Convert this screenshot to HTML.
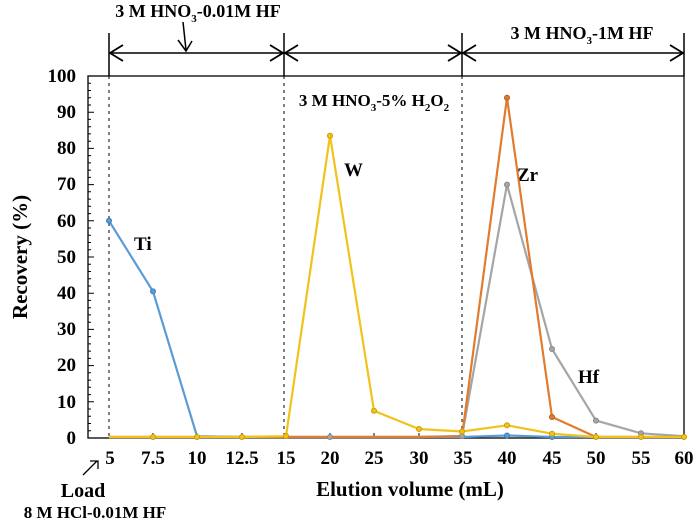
<!DOCTYPE html>
<html><head><style>body{margin:0;background:#fff}svg{display:block;font-family:"Liberation Serif",serif;font-weight:bold}</style></head><body>
<svg width="697" height="522" viewBox="0 0 697 522">
<rect x="88" y="76" width="596" height="362" fill="none" stroke="#000" stroke-width="1.3"/>
<g stroke="#000" stroke-width="1">
<path d="M88,76h6M88,83.2h3M88,90.5h3M88,97.7h3M88,105h3M88,112.2h6M88,119.4h3M88,126.7h3M88,133.9h3M88,141.2h3M88,148.4h6M88,155.6h3M88,162.9h3M88,170.1h3M88,177.4h3M88,184.6h6M88,191.8h3M88,199.1h3M88,206.3h3M88,213.6h3M88,220.8h6M88,228h3M88,235.3h3M88,242.5h3M88,249.8h3M88,257h6M88,264.2h3M88,271.5h3M88,278.7h3M88,286h3M88,293.2h6M88,300.4h3M88,307.7h3M88,314.9h3M88,322.2h3M88,329.4h6M88,336.6h3M88,343.9h3M88,351.1h3M88,358.4h3M88,365.6h6M88,372.8h3M88,380.1h3M88,387.3h3M88,394.6h3M88,401.8h6M88,409h3M88,416.3h3M88,423.5h3M88,430.8h3"/>
<path d="M153,438v-5M197,438v-5M242,438v-5M330,438v-5M374,438v-5M419,438v-5M507,438v-5M552,438v-5M596,438v-5M641,438v-5"/>
<path d="M109,76V438M284,76V438M462,76V438" stroke-dasharray="3,4"/>
<path d="M109,33V76M284,33V76M462,33V76M684,33V76" stroke-width="1.5"/>
<path d="M109,53H684" stroke-width="1.5"/>
<path d="M123,45L110,53L123,61M270,45L283,53L270,61M298,45L285,53L298,61M448,45L461,53L448,61M476,45L463,53L476,61M670,45L683,53L670,61" fill="none" stroke-width="1.8"/>
<path d="M183,22L186,50" stroke-width="1.5"/>
<path d="M178,40L186,51L192,41" fill="none" stroke-width="1.5"/>
<path d="M83,475L97,461M90,461h8v8" fill="none" stroke-width="1.3"/>
</g>
<g font-size="19" text-anchor="end">
<text x="76" y="82">100</text><text x="76" y="118">90</text><text x="76" y="154">80</text><text x="76" y="190">70</text><text x="76" y="227">60</text><text x="76" y="263">50</text><text x="76" y="299">40</text><text x="76" y="335">30</text><text x="76" y="371">20</text><text x="76" y="408">10</text><text x="76" y="444">0</text>
</g>
<g font-size="19" text-anchor="middle">
<text x="110" y="464">5</text><text x="153" y="464">7.5</text><text x="197" y="464">10</text><text x="242" y="464">12.5</text><text x="286" y="464">15</text><text x="330" y="464">20</text><text x="374" y="464">25</text><text x="419" y="464">30</text><text x="463" y="464">35</text><text x="507" y="464">40</text><text x="552" y="464">45</text><text x="596" y="464">50</text><text x="641" y="464">55</text><text x="684" y="464">60</text>
<text x="410" y="496" font-size="21">Elution volume (mL)</text>
<text x="83" y="497" font-size="20">Load</text>
<text x="95" y="518" font-size="17">8 M HCl-0.01M HF</text>
<text x="198" y="17" font-size="18">3 M HNO<tspan font-size="11" dy="5">3</tspan><tspan dy="-5">-0.01M HF</tspan></text>
<text x="582" y="39" font-size="18">3 M HNO<tspan font-size="11" dy="5">3</tspan><tspan dy="-5">-1M HF</tspan></text>
<text x="374" y="106" font-size="17">3 M HNO<tspan font-size="11" dy="5">3</tspan><tspan dy="-5">-5% H</tspan><tspan font-size="11" dy="5">2</tspan><tspan dy="-5">O</tspan><tspan font-size="11" dy="5">2</tspan></text>
</g>
<text transform="translate(27,257) rotate(-90)" font-size="21" text-anchor="middle">Recovery (%)</text>
<g font-size="19"><text x="134" y="250">Ti</text><text x="344" y="176">W</text><text x="517" y="181">Zr</text><text x="578" y="383">Hf</text></g>
<g fill="none" stroke-width="2.2" stroke-linejoin="round">
<polyline stroke="#a5a5a5" points="109,437 153,437 197,437 242,437 286,437 330,437 374,437 419,437 462,436 507,184.6 552,349 596,420.6 641,433.3 684,436.2"/>
<polyline stroke="#5b9bd5" points="109,220.8 153,291.4 197,436.2 242,437 286,437 330,437 374,437 419,437 462,437 507,435.5 552,437 596,437 641,437 684,437"/>
<polyline stroke="#e07b30" points="109,437 153,437 197,437 242,437 286,437 330,437 374,437 419,437 462,436.2 507,97.7 552,417 596,437 641,437 684,437"/>
<polyline stroke="#f2c21c" points="109,437 153,437 197,437 242,437 286,436.2 330,135.7 374,410.8 419,429 462,431.5 507,425.3 552,433.7 596,437 641,437 684,437"/>
</g>
<g stroke-width="1">
<g fill="#a5a5a5" stroke="#888"><circle cx="462" cy="436" r="2.5"/><circle cx="507" cy="184.6" r="2.5"/><circle cx="552" cy="349" r="2.5"/><circle cx="596" cy="420.6" r="2.5"/><circle cx="641" cy="433.3" r="2.5"/><circle cx="330" cy="437" r="2.5"/></g>
<g fill="#5b9bd5" stroke="#3f7fb8"><circle cx="109" cy="220.8" r="2.5"/><circle cx="153" cy="291.4" r="2.5"/><circle cx="507" cy="435.5" r="2.5"/><circle cx="552" cy="437" r="2.5"/></g>
<g fill="#e07b30" stroke="#b85a18"><circle cx="507" cy="97.7" r="2.5"/><circle cx="552" cy="417" r="2.5"/></g>
<g fill="#f2c21c" stroke="#c89b00"><circle cx="153" cy="437" r="2.5"/><circle cx="197" cy="437" r="2.5"/><circle cx="242" cy="437" r="2.5"/><circle cx="286" cy="436" r="2.5"/><circle cx="330" cy="135.7" r="2.5"/><circle cx="374" cy="410.8" r="2.5"/><circle cx="419" cy="429" r="2.5"/><circle cx="462" cy="431.5" r="2.5"/><circle cx="507" cy="425.3" r="2.5"/><circle cx="552" cy="433.7" r="2.5"/><circle cx="596" cy="437" r="2.5"/><circle cx="641" cy="437" r="2.5"/><circle cx="684" cy="437" r="2.5"/></g>
</g>
</svg>
</body></html>
